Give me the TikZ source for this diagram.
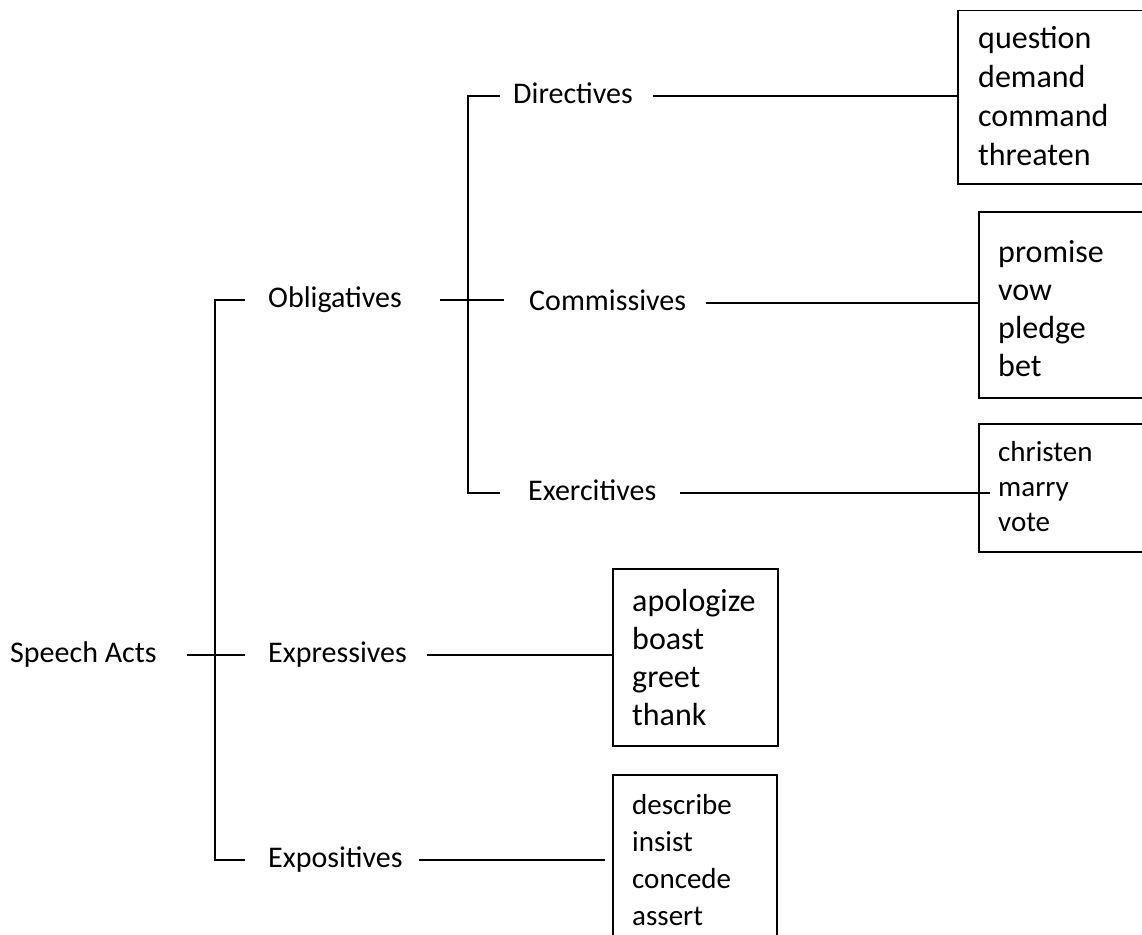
\documentclass[tikz,border=0pt]{standalone}
\usepackage{fontspec}
\setmainfont{Carlito}
\usetikzlibrary{positioning}
\tikzset{
  lbl/.style     = {font=\fontsize{30}{36}\selectfont, anchor=west, inner sep=0pt, text height=21pt, text depth=6pt},
  listbox/.style = {draw, line width=1.5pt, inner sep=0pt, anchor=north west},
  listtxt/.style = {anchor=base west, align=left, inner sep=0pt},
  conn/.style    = {line width=1.5pt},
}

\begin{document}
\begin{tikzpicture}[x=1pt,y=-1pt]
  \useasboundingbox (0,0) rectangle (1142,934);

  % labels of the tree
  \node[lbl] (speech) at (10,655)  {Speech Acts};
  \node[lbl] (oblig)  at (268,300) {Obligatives};
  \node[lbl] (expr)   at (268,655) {Expressives};
  \node[lbl] (expo)   at (268,860) {Expositives};
  \node[lbl] (dir)    at (513,96)  {Directives};
  \node[lbl] (comm)   at (529,303) {Commissives};
  \node[lbl] (exer)   at (528,493) {Exercitives};

  % boxes of verbs
  \node[listbox, minimum width=190, minimum height=173] (dir-box)  at (957,10)  {};
  \node[listbox, minimum width=170, minimum height=186] (comm-box) at (978,211) {};
  \node[listbox, minimum width=170, minimum height=128] (exer-box) at (978,423) {};
  \node[listbox, minimum width=165, minimum height=177] (expr-box) at (612,568) {};
  \node[listbox, minimum width=164, minimum height=200] (expo-box) at (612,774) {};

  % base of each list is its last line
  \node[listtxt, font=\fontsize{32}{39}\selectfont] (dir-list)  at (978,165) {question\\demand\\command\\threaten};
  \node[listtxt, font=\fontsize{32}{38}\selectfont] (comm-list) at (998,376) {promise\\vow\\pledge\\bet};
  \node[listtxt, font=\fontsize{29}{35}\selectfont] (exer-list) at (998,531) {christen\\marry\\vote};
  \node[listtxt, font=\fontsize{32}{38}\selectfont] (expr-list) at (632,725) {apologize\\boast\\greet\\thank};
  \node[listtxt, font=\fontsize{29}{37}\selectfont] (expo-list) at (632,925) {describe\\insist\\concede\\assert};

  % brackets
  \coordinate (sa-bar) at (215,655);
  \coordinate (ob-bar) at (468,300);
  \draw[conn] ([xshift=30]speech.east) -- ([xshift=-23]expr.west);
  \draw[conn] ([xshift=-23]oblig.west) -| (sa-bar) |- ([xshift=-23]expo.west);
  \draw[conn] ([xshift=38]oblig.east) -- ++(64,0);
  \draw[conn] ([xshift=-13]dir.west) -| (ob-bar) |- ([xshift=-28]exer.west);

  % connectors to the boxes
  \draw[conn] ([xshift=20]dir.east) -- (dir-box.west |- dir.east);
  \draw[conn] ([xshift=20]comm.east) -- (comm-box.west |- comm.east);
  \draw[conn] ([xshift=24]exer.east) -- ([xshift=12]exer-box.west |- exer.east);
  \draw[conn] ([xshift=20]expr.east) -- (expr-box.west |- expr.east);
  \draw[conn] ([xshift=16]expo.east) -- ([xshift=-7]expo-box.west |- expo.east);
\end{tikzpicture}
\end{document}
